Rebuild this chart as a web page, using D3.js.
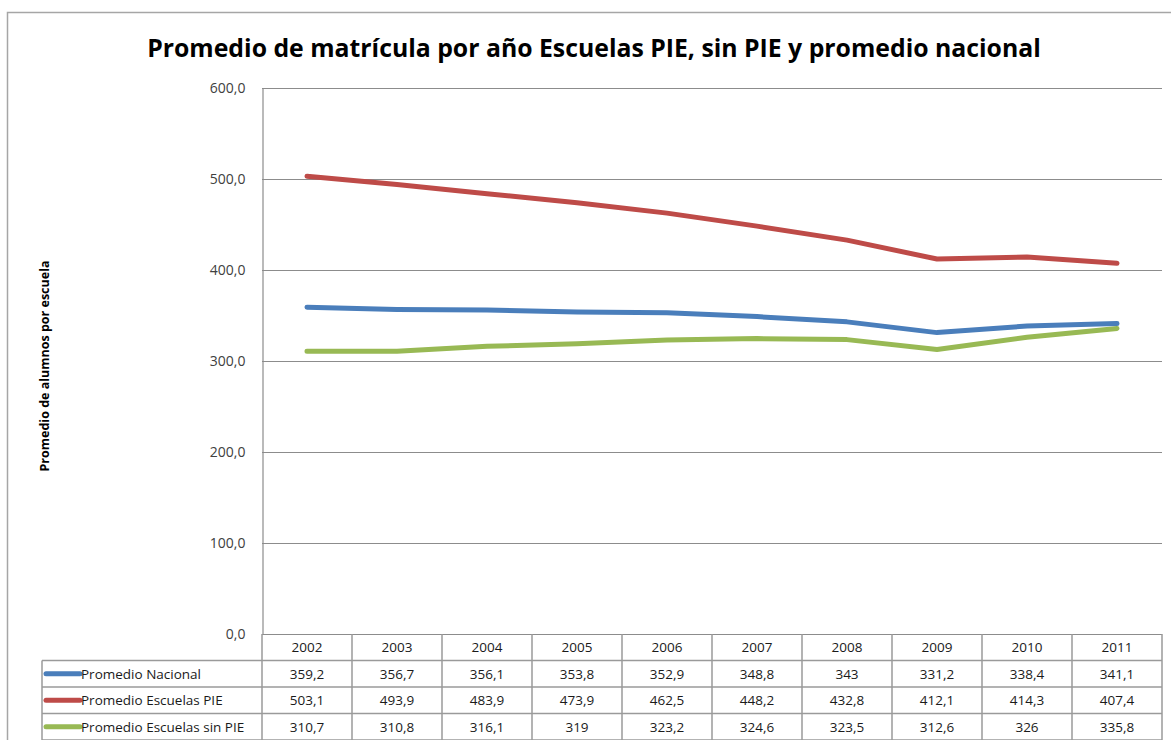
<!DOCTYPE html>
<html lang="es">
  <head>
    <meta charset="utf-8" />
    <title>Promedio de matrícula</title>
    <script src="https://cdn.jsdelivr.net/npm/d3@7"></script>
    <style>
      body { margin: 0; background: #fff; }
      text { font-family: "Open Sans", "Noto Sans", sans-serif; }
    </style>
  </head>
  <body>
    <script>
      const years = ["2002", "2003", "2004", "2005", "2006", "2007", "2008", "2009", "2010", "2011"];
      const nacional = [359.2, 356.7, 356.1, 353.8, 352.9, 348.8, 343, 331.2, 338.4, 341.1];
      const conPIE = [503.1, 493.9, 483.9, 473.9, 462.5, 448.2, 432.8, 412.1, 414.3, 407.4];
      const sinPIE = [310.7, 310.8, 316.1, 319, 323.2, 324.6, 323.5, 312.6, 326, 335.8];
      const yTicks = [0, 100, 200, 300, 400, 500, 600];

      const series = [
        { name: "Promedio Nacional", values: nacional, color: "#4a7ebb" },
        { name: "Promedio Escuelas PIE", values: conPIE, color: "#be4b48" },
        { name: "Promedio Escuelas sin PIE", values: sinPIE, color: "#98b954" }
      ];

      const width = 1171, height = 740;
      const plot = { left: 262, right: 1162, top: 88, bottom: 634 };

      const svg = d3.select("body").append("svg")
        .attr("width", width)
        .attr("height", height);

      // chart frame
      svg.append("rect")
        .attr("x", 7.5).attr("y", 12.5)
        .attr("width", 1180).attr("height", 760)
        .attr("fill", "none").attr("stroke", "#a6a6a6").attr("stroke-width", 1.5);

      svg.append("text")
        .attr("x", 594).attr("y", 57)
        .attr("text-anchor", "middle")
        .attr("font-size", 24.8).attr("font-weight", "bold")
        .attr("fill", "#000")
        .text("Promedio de matrícula por año Escuelas PIE, sin PIE y promedio nacional");

      const x = d3.scaleBand().domain(years).range([plot.left, plot.right]);
      const y = d3.scaleLinear().domain([0, 600]).range([plot.bottom, plot.top]);
      const fmt = v => d3.format(".1f")(v).replace(".", ",");
      const cellFmt = v => Number.isInteger(v) ? String(v) : String(v).replace(".", ",");

      // gridlines
      svg.append("g")
        .selectAll("line").data(yTicks).join("line")
        .attr("x1", plot.left).attr("x2", plot.right)
        .attr("y1", d => Math.round(y(d)) + 0.5).attr("y2", d => Math.round(y(d)) + 0.5)
        .attr("stroke", "#8c8c8c").attr("stroke-width", 1.2);

      // y axis
      const yAxis = svg.append("g")
        .attr("transform", `translate(${plot.left + 0.5},0)`)
        .call(d3.axisLeft(y).tickValues(yTicks).tickFormat(fmt).tickSize(0).tickPadding(17));
      yAxis.select(".domain").attr("stroke", "#8c8c8c").attr("stroke-width", 1.2);
      yAxis.selectAll("text")
        .attr("font-size", 14).attr("fill", "#404040")
        .style("font-family", "'Open Sans', sans-serif");

      svg.append("text")
        .attr("transform", `translate(49,${(plot.top + plot.bottom) / 2 + 5}) rotate(-90)`)
        .attr("text-anchor", "middle")
        .attr("font-size", 12.5).attr("font-weight", "bold")
        .text("Promedio de alumnos por escuela");

      // lines
      const line = d3.line()
        .x((d, i) => x(years[i]) + x.bandwidth() / 2)
        .y(d => y(d));

      svg.append("g")
        .selectAll("path").data([series[2], series[0], series[1]]).join("path")
        .attr("d", d => line(d.values))
        .attr("fill", "none")
        .attr("stroke", d => d.color)
        .attr("stroke-width", 5)
        .attr("stroke-linecap", "round")
        .attr("stroke-linejoin", "round");

      // data table
      const rowH = 26.5;
      const tableTop = plot.bottom;
      const tableLeft = 42;
      const gridColor = "#9a9a9a";
      const table = svg.append("g");

      // header row (years)
      table.selectAll("text.year").data(years).join("text")
        .attr("class", "year")
        .attr("x", d => x(d) + x.bandwidth() / 2)
        .attr("y", tableTop + rowH / 2 + 5)
        .attr("text-anchor", "middle")
        .attr("font-size", 13.5).attr("fill", "#1a1a1a")
        .text(d => d);

      // horizontal borders
      const hLines = d3.range(1, series.length + 2);
      table.selectAll("line.h").data(hLines).join("line")
        .attr("class", "h")
        .attr("x1", tableLeft).attr("x2", plot.right)
        .attr("y1", d => tableTop + d * rowH).attr("y2", d => tableTop + d * rowH)
        .attr("stroke", gridColor).attr("stroke-width", 1.5);

      // vertical borders
      table.selectAll("line.v").data(d3.range(years.length + 1)).join("line")
        .attr("class", "v")
        .attr("x1", d => plot.left + d * x.bandwidth()).attr("x2", d => plot.left + d * x.bandwidth())
        .attr("y1", tableTop).attr("y2", tableTop + (series.length + 1) * rowH)
        .attr("stroke", gridColor).attr("stroke-width", 1.5);
      table.append("line")
        .attr("x1", tableLeft).attr("x2", tableLeft)
        .attr("y1", tableTop + rowH).attr("y2", tableTop + (series.length + 1) * rowH)
        .attr("stroke", gridColor).attr("stroke-width", 1.5);

      const rows = table.selectAll("g.row").data(series).join("g")
        .attr("class", "row")
        .attr("transform", (d, i) => `translate(0,${tableTop + (i + 1) * rowH})`);

      rows.append("line")
        .attr("x1", tableLeft + 4).attr("x2", tableLeft + 38)
        .attr("y1", rowH / 2).attr("y2", rowH / 2)
        .attr("stroke", d => d.color).attr("stroke-width", 5)
        .attr("stroke-linecap", "round");

      rows.append("text")
        .attr("x", tableLeft + 39).attr("y", rowH / 2 + 5)
        .attr("font-size", 13.5).attr("fill", "#1a1a1a")
        .text(d => d.name);

      rows.selectAll("text.val").data(d => d.values).join("text")
        .attr("class", "val")
        .attr("x", (d, i) => x(years[i]) + x.bandwidth() / 2)
        .attr("y", rowH / 2 + 5)
        .attr("text-anchor", "middle")
        .attr("font-size", 13.5).attr("fill", "#1a1a1a")
        .text(d => cellFmt(d));
    </script>
  </body>
</html>
